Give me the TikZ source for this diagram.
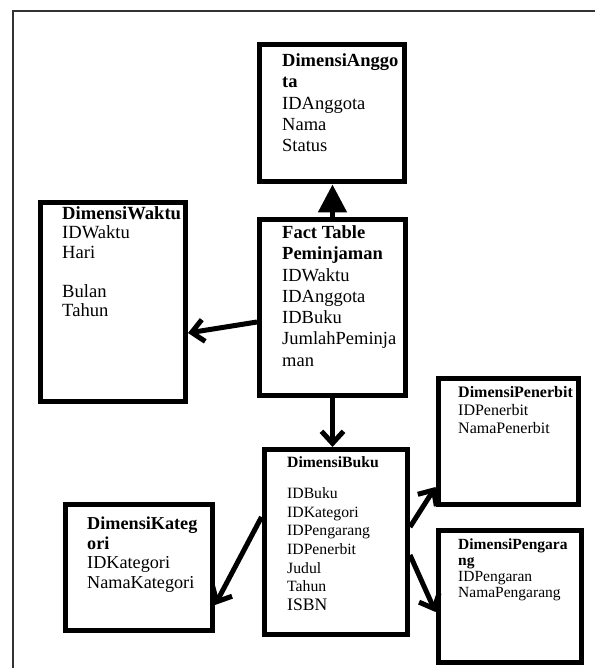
\documentclass[tikz,border=0pt]{standalone}
\usepackage{fontspec}
\setmainfont{Liberation Serif}
\usetikzlibrary{arrows.meta,positioning}

\begin{document}
\begin{tikzpicture}[x=1pt,y=1pt,
    tabel/.style={draw,line width=5pt,inner sep=0pt,anchor=north west},
    isi/.style={anchor=north west,inner sep=0pt,align=left,font=\fontsize{18.5}{21.3}\selectfont},
    isikecil/.style={isi,font=\fontsize{16}{18}\selectfont},
    panah/.style={line width=5pt,-{Straight Barb[length=12pt,width=22pt]}},
]
\useasboundingbox (0,0) rectangle (594,668);

% bingkai luar
\draw[line width=1.5pt,black!80] (13,-5) |- (600,657);

% tabel fakta
\node[tabel,minimum width=146pt,minimum height=176pt] (fakta) at (257,451) {};
\node[isi] (faktaTeks) at (282,442.6) {\textbf{Fact Table}\\\textbf{Peminjaman}\\IDWaktu\\IDAnggota\\IDBuku\\JumlahPeminja\\man};

% dimensi
\node[tabel,minimum width=145pt,minimum height=137.5pt] (anggota) at (257,626) {};
\node[isi] (anggotaTeks) at (282,614.5) {\textbf{DimensiAnggo}\\\textbf{ta}\\IDAnggota\\Nama\\Status};

\node[tabel,minimum width=145pt,minimum height=199.5pt] (waktu) at (38,468) {};
\node[isi,font=\fontsize{18.6}{19.5}\selectfont] (waktuTeks) at (62,461.6) {\textbf{DimensiWaktu}\\IDWaktu\\Hari\\[19.5pt]Bulan\\Tahun};

\node[tabel,minimum width=143.5pt,minimum height=185pt] (buku) at (261.5,221) {};
\node[isi,font=\fontsize{15.7}{18.7}\selectfont] (bukuTeks) at (287,211.6) {\textbf{DimensiBuku}\\[12.3pt]IDBuku\\IDKategori\\IDPengarang\\IDPenerbit\\Judul\\Tahun\\{\fontsize{17.6}{18.7}\selectfont ISBN}};

\node[tabel,minimum width=140pt,minimum height=126pt] (penerbit) at (435.5,292) {};
\node[isikecil] (penerbitTeks) at (458,282) {\textbf{DimensiPenerbit}\\IDPenerbit\\NamaPenerbit};

\node[tabel,minimum width=143pt,minimum height=132pt] (pengarang) at (435.5,140) {};
\node[isi,font=\fontsize{15.5}{16}\selectfont] (pengarangTeks) at (458,129) {\textbf{DimensiPengara}\\\textbf{ng}\\IDPengaran\\NamaPengarang};

\node[tabel,minimum width=147pt,minimum height=126pt] (kategori) at (63,166) {};
\node[isi,font=\fontsize{18.2}{19.7}\selectfont] (kategoriTeks) at (87,151.5) {\textbf{DimensiKateg}\\\textbf{ori}\\IDKategori\\NamaKategori};

% panah
\draw[line width=5pt,-{Triangle[length=28pt,width=28pt]}] (fakta.north) -- (fakta.north |- anggota.south);
\draw[panah] ([yshift=-14.5pt]fakta.west) -- ([yshift=-30.75pt]waktu.east);
\draw[panah] (fakta.south) -- (fakta.south |- buku.north);
\draw[panah] ([yshift=15pt]buku.east) -- ([yshift=-45.5pt]penerbit.west);
\draw[panah] ([yshift=-13pt]buku.east) -- ([yshift=-15.5pt]pengarang.west);
\draw[panah] ([yshift=25pt]buku.west) -- ([yshift=-37.5pt]kategori.east);
\end{tikzpicture}
\end{document}
